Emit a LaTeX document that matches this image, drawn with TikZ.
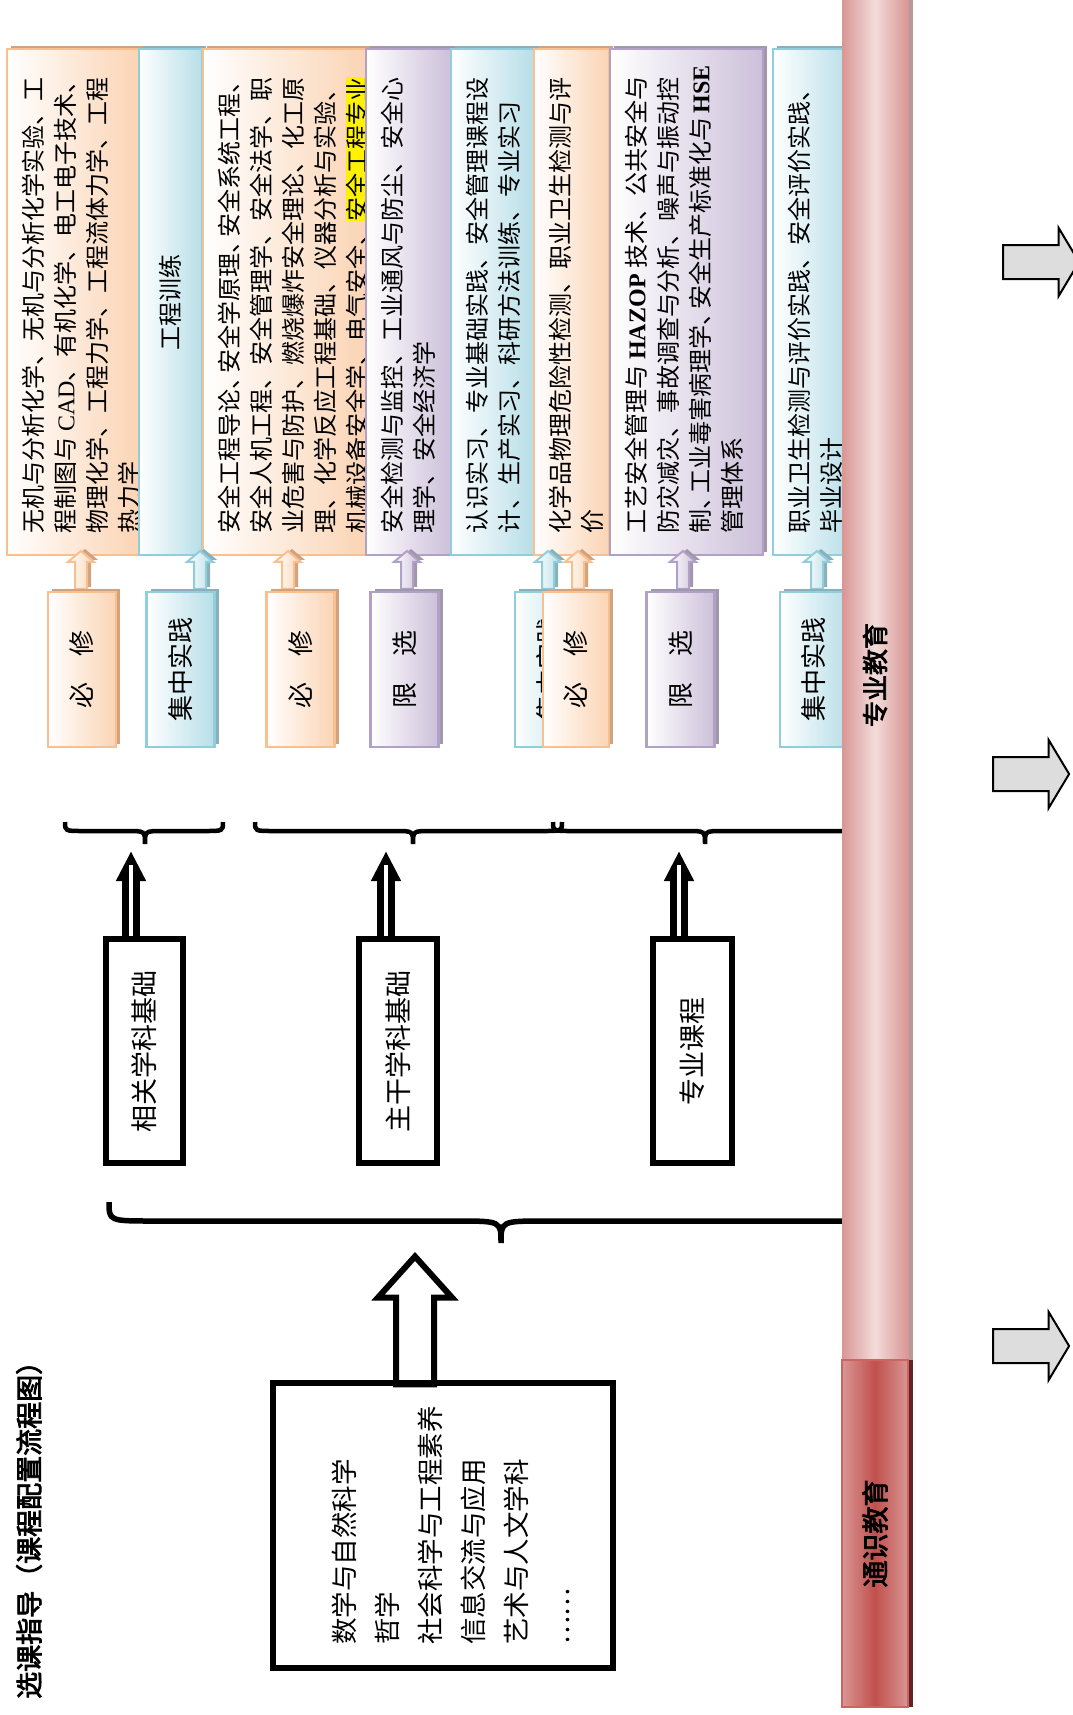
\documentclass[tikz,border=0pt]{standalone}
\usepackage{fontspec}
\setmainfont{Liberation Serif}
\newfontfamily\cjk{Noto Sans CJK SC}[AutoFakeBold=3]
\newfontfamily\lat{Liberation Serif}
\usetikzlibrary{positioning, calc, arrows.meta, shapes.arrows, shadows}

\definecolor{orgline}{RGB}{250,191,143}
\definecolor{orgfill}{RGB}{251,212,180}
\definecolor{orgshad}{RGB}{208,162,126}
\definecolor{bluline}{RGB}{146,205,220}
\definecolor{blufill}{RGB}{183,222,232}
\definecolor{blushad}{RGB}{138,176,186}
\definecolor{purline}{RGB}{178,161,199}
\definecolor{purfill}{RGB}{204,192,218}
\definecolor{purshad}{RGB}{162,152,174}
\definecolor{pinkedge}{RGB}{217,150,148}
\definecolor{pinklight}{RGB}{242,220,219}
\definecolor{pinkshad}{RGB}{184,152,152}
\definecolor{redmid}{RGB}{192,80,77}
\definecolor{redline}{RGB}{205,100,98}
\definecolor{reddark}{RGB}{99,37,35}
\definecolor{gfill}{RGB}{221,221,221}

\newcommand{\hili}[1]{{\setlength{\fboxsep}{0pt}\colorbox{yellow}{#1}}}
\newcommand{\dun}{、\kern-8pt} % tight 、 inside long lines
% curly brace: style, left end, tip, right end, curl top, line, tip depth, curl length
\newcommand{\cbrace}[8]{\draw[#1] (#2,#5) .. controls (#2,#6) and (#2,#6) .. ({#2+#8},#6) -- ({#3-#8},#6) .. controls (#3,#6) and (#3,#6) .. (#3,#7) .. controls (#3,#6) and (#3,#6) .. ({#3+#8},#6) -- ({#4-#8},#6) .. controls (#4,#6) and (#4,#6) .. (#4,#5);}

\tikzset{
cbox/.style={draw=#1line, line width=2.5pt, left color=white, right color=#1fill, minimum height=506pt, inner sep=0pt, drop shadow={shadow xshift=4pt, shadow yshift=3pt, fill=#1shad, opacity=1}, font=\cjk\fontsize{24}{32}\selectfont}, % course boxes on top
ctext/.style={rotate=90, anchor=north west, inner sep=0pt, align=left, font=\cjk\fontsize{24}{32}\selectfont}, % course lists, read upwards
sbox/.style={draw=#1line, line width=2.5pt, left color=white, right color=#1fill, minimum width=68pt, minimum height=155pt, inner sep=0pt, drop shadow={shadow xshift=4pt, shadow yshift=3pt, fill=#1shad, opacity=1}, font=\cjk\fontsize{26}{30}\selectfont}, % 必修 / 限选 / 集中实践
sarrow/.style={single arrow, rotate=90, draw=#1line, line width=2pt, left color=white, right color=#1fill, minimum height=38pt, minimum width=26pt, single arrow head extend=7pt, single arrow tip angle=100, inner xsep=0pt, inner ysep=5pt, drop shadow={shadow xshift=4pt, shadow yshift=2pt, fill=#1shad, opacity=1}},
kbox/.style={draw=black, line width=6.5pt, minimum height=224pt, inner sep=0pt, font=\cjk\fontsize{27}{30}\selectfont},
gbox/.style={draw=black, line width=6pt, minimum width=340pt, minimum height=285pt, inner sep=0pt, font=\cjk\fontsize{26.5}{43}\selectfont},
bigarrow/.style={single arrow, rotate=90, draw=black, line width=6pt, fill=white, minimum height=128pt, minimum width=68pt, single arrow head extend=18pt, single arrow tip angle=84, inner xsep=0pt, inner ysep=16pt},
garrow/.style={single arrow, draw=black, line width=2pt, fill=gfill, minimum height=76pt, minimum width=66pt, single arrow head extend=17pt, single arrow tip angle=118, inner xsep=0pt, inner ysep=16pt},
brc/.style={line width=4.5pt},
bigbrc/.style={line width=5.5pt},
ttl/.style={rotate=90, inner sep=0pt, font=\cjk\bfseries\fontsize{27}{30}\selectfont},
zbar/.style={draw=pinkedge, line width=1pt, left color=pinkedge, right color=pinkedge, middle color=pinklight, minimum width=66pt, inner sep=0pt, drop shadow={shadow xshift=5pt, shadow yshift=0pt, fill=pinkshad, opacity=1}, font=\cjk\bfseries\fontsize{26}{30}\selectfont},
tbar/.style={draw=redline, line width=1.5pt, left color=pinkedge, right color=pinkedge, middle color=redmid, minimum width=66pt, inner sep=0pt, drop shadow={shadow xshift=5pt, shadow yshift=0pt, fill=reddark, opacity=1}, font=\cjk\bfseries\fontsize{27}{30}\selectfont},
}

\begin{document}
\begin{tikzpicture}[x=1pt, y=-1pt]
\useasboundingbox (0,0) rectangle (1072,1715);

\node[ttl, anchor=west] (title) at (29,1699) {选课指导（课程配置流程图）};

% course lists, each box drawn after the text of the one before
\node[cbox=org, minimum width=132pt] (c1) at (73,302) {};
\node[ctext] (t1) at ($(c1.south west)+(16,-23)$) {无机与分析化学、无机与分析化学实验、工\\程制图与 {\lat CAD}、有机化学、电工电子技术、\\物理化学、工程力学、工程流体力学、工程\\热力学};
\node[cbox=blu, minimum width=63pt] (c2) at (170.5,302) {\rotatebox{90}{工程训练}};
\node[cbox=org, minimum width=163pt] (c3) at (284.5,302) {};
\node[ctext] (t3) at ($(c3.south west)+(16,-23)$) {安全工程导论\dun 安全学原理\dun 安全系统工程、\\安全人机工程、安全管理学、安全法学、职\\业危害与防护、燃烧爆炸安全理论、化工原\\理、化学反应工程基础、仪器分析与实验、\\机械设备安全学、电气安全、\hili{安全工程专业}};
\node[cbox=pur, minimum width=85pt] (c4) at (408.5,302) {};
\node[ctext] (t4) at ($(c4.south west)+(16,-23)$) {安全检测与监控、工业通风与防尘、安全心\\理学、安全经济学};
\node[cbox=blu, minimum width=83pt] (c5) at (492.5,302) {};
\node[ctext] (t5) at ($(c5.south west)+(16,-23)$) {认识实习、专业基础实践、安全管理课程设\\计、生产实习、科研方法训练、专业实习};
\node[cbox=org, minimum width=75pt] (c6) at (571.5,302) {};
\node[ctext] (t6) at ($(c6.south west)+(16,-23)$) {化学品物理危险性检测、职业卫生检测与评\\价};
\node[cbox=pur, minimum width=153pt] (c7) at (686.5,302) {};
\node[ctext] (t7) at ($(c7.south west)+(16,-23)$) {工艺安全管理与 {\lat\bfseries HAZOP} 技术、公共安全与\\防灾减灾、事故调查与分析、噪声与振动控\\制\dun 工业毒害病理学\dun 安全生产标准化与\,{\lat\bfseries HSE}\\管理体系};
\node[cbox=blu, minimum width=77pt] (c8) at (811.5,302) {};
\node[ctext] (t8) at ($(c8.south west)+(16,-23)$) {职业卫生检测与评价实践、安全评价实践、\\毕业设计};

% small arrows up to the lists
\node[sarrow=org] (a1) at (81,572.5) {};
\node[sarrow=blu] (a2) at (200,572.5) {};
\node[sarrow=org] (a3) at (288,572.5) {};
\node[sarrow=pur] (a4) at (407,572.5) {};
\node[sarrow=blu] (a5) at (548,572.5) {};
\node[sarrow=org] (a6) at (578,572.5) {};
\node[sarrow=pur] (a7) at (683,572.5) {};
\node[sarrow=blu] (a8) at (817,572.5) {};

\node[sbox=org] (s1) at (82,669.5) {\rotatebox{90}{必　修}};
\node[sbox=blu] (s2) at (180.5,669.5) {\rotatebox{90}{集中实践}};
\node[sbox=org] (s3) at (300.5,669.5) {\rotatebox{90}{必　修}};
\node[sbox=pur] (s4) at (404.5,669.5) {\rotatebox{90}{限　选}};
\node[sbox=blu] (s5) at (549,669.5) {\rotatebox{90}{集中实践}};
\node[sbox=org, minimum width=66pt] (s6) at (576,669.5) {\rotatebox{90}{必　修}};
\node[sbox=pur] (s7) at (680.5,669.5) {\rotatebox{90}{限　选}};
\node[sbox=blu] (s8) at (814,669.5) {\rotatebox{90}{集中实践}};

% braces
\cbrace{brc}{65}{145}{223}{822}{831}{844}{18}
\cbrace{brc}{255}{413}{562}{822}{831}{844}{18}
\cbrace{brc}{553}{705}{880}{822}{831}{844}{18}
\cbrace{bigbrc}{109}{501}{900}{1202}{1221}{1243}{45}

% course groups
\coordinate (h1) at (131,851);
\coordinate (h2) at (386,851);
\coordinate (h3) at (679,851);
\node[kbox, minimum width=77pt] (k1) at (144.5,1051) {\rotatebox{90}{相关学科基础}};
\node[kbox, minimum width=78pt] (k2) at (398,1051) {\rotatebox{90}{主干学科基础}};
\node[kbox, minimum width=79pt] (k3) at (692.5,1051) {\rotatebox{90}{专业课程}};
\foreach \k/\h in {k1/h1, k2/h2, k3/h3}{
  \draw[line width=18pt, -{Triangle[length=30pt, width=28pt]}] (\k.north -| \h) -- (\h);
  \draw[white, line width=4pt, shorten >=14pt] (\k.north -| \h) -- (\h);
}

% general education
\node[bigarrow] (ga) at (415,1331) {};
\node[gbox] (g) at (443,1525.5) {\kern20pt\rotatebox{90}{\begin{tabular}{@{}l@{}}数学与自然科学\\哲学\\社会科学与工程素养\\信息交流与应用\\艺术与人文学科\\……\end{tabular}}};

% education bar
\node[zbar, minimum height=1370pt] (zy) at (875,675) {\rotatebox{90}{专业教育}};
\node[tbar, minimum height=347pt] (ts) at (875,1533.5) {\rotatebox{90}{通识教育}};

\node[garrow] (p1) at (1036,262) {};
\node[garrow] (p2) at (1026,774) {};
\node[garrow] (p3) at (1026,1346) {};
\end{tikzpicture}
\end{document}
